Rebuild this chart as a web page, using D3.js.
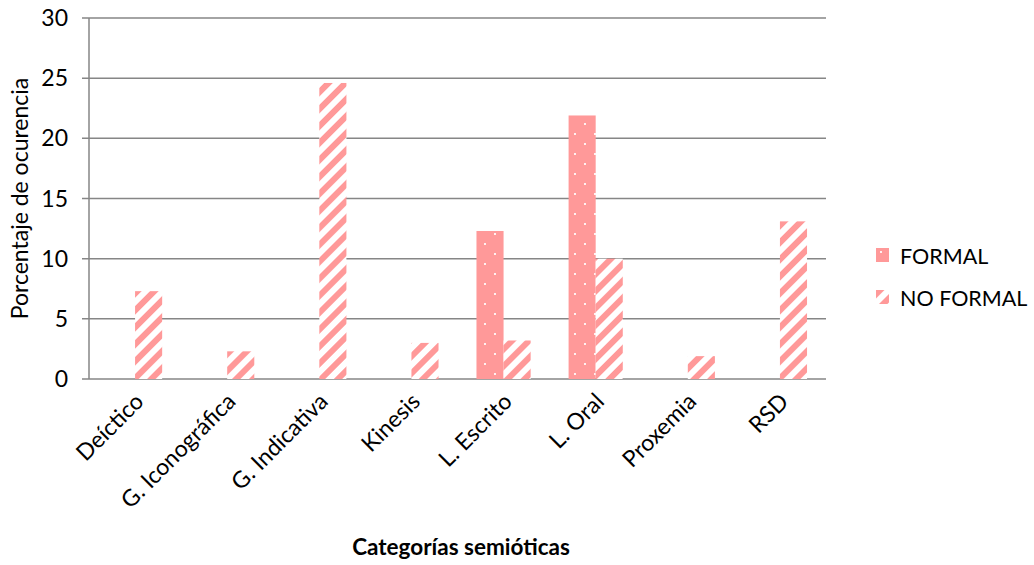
<!DOCTYPE html>
<html>
<head>
<meta charset="utf-8">
<script src="https://cdn.jsdelivr.net/npm/d3@7"></script>
<style>
  html, body { margin: 0; padding: 0; background: #fff; }
  svg { display: block; font-family: Lato, "Open Sans", sans-serif; }
</style>
</head>
<body>
<svg id="chart" width="1034" height="565"></svg>
<script>
// Semiotic categories and occurrence percentages per setting
const categories = ["Deíctico", "G. Iconográfica", "G. Indicativa", "Kinesis", "L. Escrito", "L. Oral", "Proxemia", "RSD"];
const formal =    [0, 0, 0, 0, 12.3, 21.9, 0, 0];
const noFormal =  [7.3, 2.3, 24.6, 3.0, 3.2, 10.0, 1.9, 13.1];
const seriesNames = ["FORMAL", "NO FORMAL"];
const yTicks = [0, 5, 10, 15, 20, 25, 30];

const pink = "#ff9999";
const svg = d3.select("#chart");
const margin = { left: 89, right: 208, top: 18, bottom: 186 };
const W = 1034, H = 565;

const x = d3.scaleBand().domain(categories).range([margin.left, W - margin.right]);
const inner = d3.scaleBand().domain(seriesNames).range([0, x.bandwidth()]).paddingOuter(0.7);
const y = d3.scaleLinear().domain([0, 30]).range([H - margin.bottom, margin.top]);

// Fill patterns: dotted for FORMAL, diagonal stripes for NO FORMAL
const defs = svg.append("defs");
const dots = defs.append("pattern").attr("id", "dots")
  .attr("patternUnits", "userSpaceOnUse").attr("width", 20).attr("height", 20);
dots.append("rect").attr("width", 20).attr("height", 20).attr("fill", pink);
[[5, 4], [15, 14]].forEach(([cx, cy]) =>
  dots.append("rect").attr("x", cx - 1).attr("y", cy - 1).attr("width", 2).attr("height", 2).attr("fill", "#fff").attr("opacity", 0.85));

const stripes = defs.append("pattern").attr("id", "stripes")
  .attr("patternUnits", "userSpaceOnUse").attr("width", 12).attr("height", 12)
  .attr("patternTransform", "rotate(45)");
stripes.append("rect").attr("width", 12).attr("height", 12).attr("fill", "#fff");
stripes.append("rect").attr("width", 6).attr("height", 12).attr("fill", pink);

// Gridlines
svg.append("g").selectAll("line").data(yTicks).join("line")
  .attr("x1", margin.left - 7).attr("x2", W - margin.right)
  .attr("y1", d => y(d)).attr("y2", d => y(d))
  .attr("stroke", "#868686").attr("stroke-width", 1.5);

// Y axis line
svg.append("line").attr("x1", margin.left).attr("x2", margin.left)
  .attr("y1", y(30)).attr("y2", y(0)).attr("stroke", "#868686").attr("stroke-width", 1.5);

// Y tick labels
svg.append("g").selectAll("text").data(yTicks).join("text")
  .attr("x", 68).attr("y", d => y(d)).attr("dy", "0.35em")
  .attr("text-anchor", "end").attr("font-size", 23).attr("fill", "#000")
  .text(d => d);

// Bars
const fills = { "FORMAL": "url(#dots)", "NO FORMAL": "url(#stripes)" };
const rows = [];
categories.forEach((c, i) => {
  rows.push({ cat: c, s: "FORMAL", v: formal[i] });
  rows.push({ cat: c, s: "NO FORMAL", v: noFormal[i] });
});
svg.append("g").selectAll("rect").data(rows.filter(d => d.v > 0)).join("rect")
  .attr("x", d => x(d.cat) + inner(d.s))
  .attr("width", inner.bandwidth())
  .attr("y", d => y(d.v))
  .attr("height", d => y(0) - y(d.v))
  .attr("fill", d => fills[d.s]);

// X category labels, rotated
svg.append("g").selectAll("text").data(categories).join("text")
  .attr("transform", d => `translate(${x(d) + x.bandwidth() / 2 + 10},${y(0) + 24}) rotate(-45)`)
  .attr("text-anchor", "end").attr("font-size", 23).attr("fill", "#000")
  .text(d => d);

// Axis titles
svg.append("text")
  .attr("transform", `translate(28,${(y(0) + y(30)) / 2}) rotate(-90)`)
  .attr("text-anchor", "middle").attr("font-size", 23).attr("fill", "#000")
  .text("Porcentaje de ocurencia");
svg.append("text")
  .attr("x", 461).attr("y", 555)
  .attr("text-anchor", "middle").attr("font-size", 22.5).attr("font-weight", "bold").attr("fill", "#000")
  .text("Categorías semióticas");

// Legend
const legend = svg.append("g").selectAll("g").data(seriesNames).join("g")
  .attr("transform", (d, i) => `translate(876,${248 + i * 42})`);
legend.append("rect").attr("width", 13).attr("height", 14).attr("fill", d => fills[d]);
legend.append("text").attr("x", 24).attr("y", 7).attr("dy", "0.4em")
  .attr("font-size", 21.5).attr("fill", "#000").text(d => d);
</script>
</body>
</html>
